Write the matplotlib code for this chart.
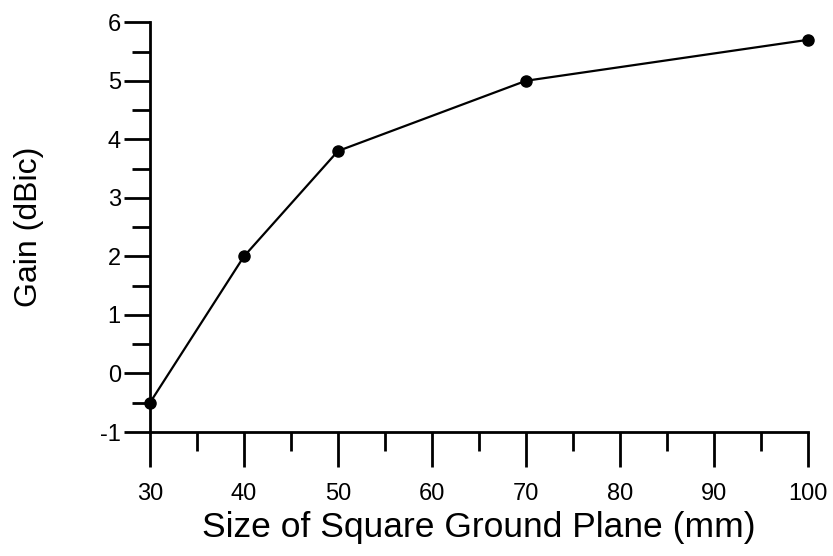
import matplotlib
matplotlib.use("Agg")
import matplotlib.pyplot as plt
from matplotlib.ticker import MultipleLocator

# ground plane size (mm) vs gain (dBic)
sizes = [30, 40, 50, 70, 100]
gain = [-0.5, 2.0, 3.8, 5.0, 5.7]

plt.rcParams["font.family"] = ["Liberation Sans", "DejaVu Sans"]
plt.rcParams["axes.unicode_minus"] = False

fig = plt.figure(figsize=(8.33, 5.56), dpi=100)
ax = fig.add_axes([0.180, 0.223, 0.790, 0.737])

ax.plot(sizes, gain, color="black", linewidth=1.6, marker="o",
        markersize=8, zorder=3, clip_on=False)

ax.set_xlim(30, 100)
ax.set_ylim(-1, 6)
ax.xaxis.set_major_locator(MultipleLocator(10))
ax.xaxis.set_minor_locator(MultipleLocator(5))
ax.yaxis.set_major_locator(MultipleLocator(1))
ax.yaxis.set_minor_locator(MultipleLocator(0.5))

for side in ("top", "right"):
    ax.spines[side].set_visible(False)
for side in ("left", "bottom"):
    ax.spines[side].set_linewidth(2.0)

ax.tick_params(axis="x", which="major", direction="out", length=25, width=2.0,
               labelsize=17, pad=12)
ax.tick_params(axis="x", which="minor", direction="out", length=14, width=2.0)
ax.tick_params(axis="y", which="major", direction="out", length=19, width=2.0,
               labelsize=17, pad=2)
ax.tick_params(axis="y", which="minor", direction="out", length=13, width=2.0)

ax.set_xlabel("Size of Square Ground Plane (mm)", fontsize=25.5, labelpad=4)
ax.set_ylabel("Gain (dBic)", fontsize=23, labelpad=40)

plt.savefig("out.png", dpi=100, facecolor="white")
plt.close()
